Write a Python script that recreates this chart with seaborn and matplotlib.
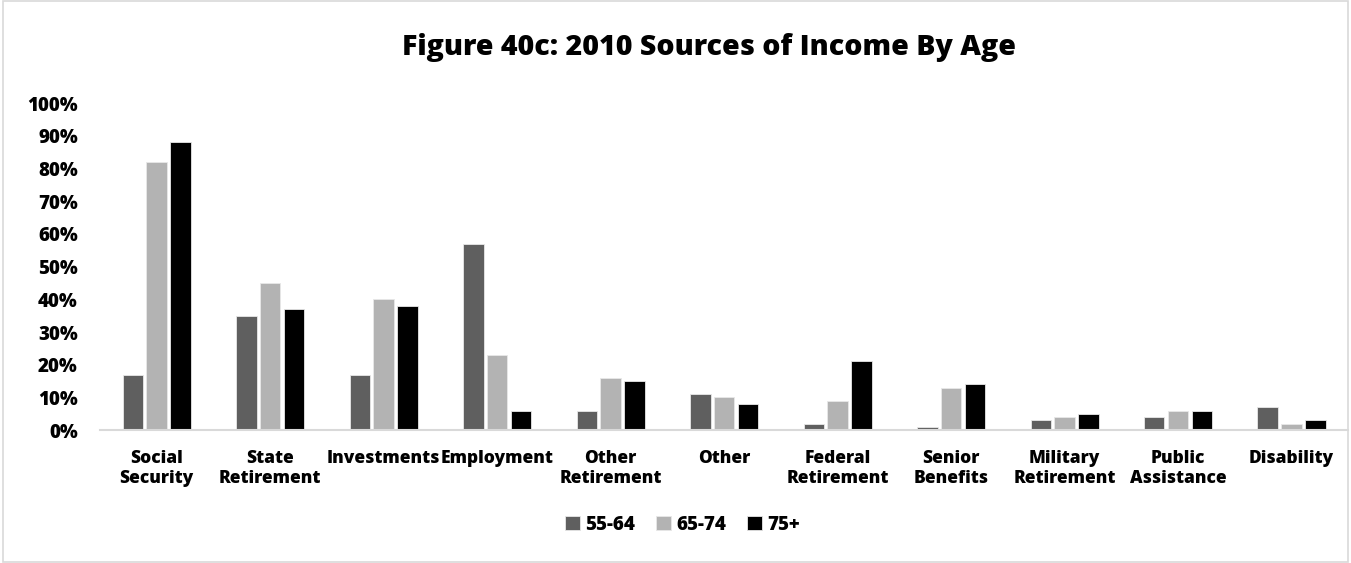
import pandas as pd
import numpy as np
import seaborn as sns
import matplotlib.pyplot as plt
from matplotlib.patches import Rectangle

# Data
categories = ["Social\nSecurity", "State\nRetirement", "Investments", "Employment",
              "Other\nRetirement", "Other", "Federal\nRetirement", "Senior\nBenefits",
              "Military\nRetirement", "Public\nAssistance", "Disability"]
age_groups = ["55-64", "65-74", "75+"]
age_55_64 = [17, 35, 17, 57, 6, 11, 2, 1, 3, 4, 7]
age_65_74 = [82, 45, 40, 23, 16, 10, 9, 13, 4, 6, 2]
age_75_up = [88, 37, 38, 6, 15, 8, 21, 14, 5, 6, 3]
colors = ["#5f5f5f", "#b3b3b3", "#000000"]

df = pd.DataFrame({
    "source": categories * 3,
    "age": np.repeat(age_groups, len(categories)),
    "pct": age_55_64 + age_65_74 + age_75_up,
})

sns.set_style("white")
plt.rcParams['font.family'] = ['Open Sans', 'DejaVu Sans']
plt.rcParams['font.weight'] = 800
plt.rcParams['text.color'] = 'black'
plt.rcParams['xtick.color'] = 'black'
plt.rcParams['ytick.color'] = 'black'

fig = plt.figure(figsize=(13.51, 5.63), dpi=100)
ax = fig.add_axes([0.074, 0.236, 0.924, 0.581])

sns.barplot(data=df, x="source", y="pct", hue="age", order=categories,
            hue_order=age_groups, palette=colors, width=0.63, gap=0.14,
            edgecolor="#e8e8e8", linewidth=0.6, ax=ax)

ax.set_ylim(0, 100)
ax.set_yticks(range(0, 101, 10))
ax.set_yticklabels([f"{v}%" for v in range(0, 101, 10)], fontsize=13.5, fontweight=800)
ax.set_xlim(-0.5, len(categories) - 0.5)
ax.tick_params(axis='x', labelsize=12.5, length=0, pad=14)
ax.tick_params(axis='y', length=0, pad=16)
for lab in ax.get_xticklabels():
    lab.set_fontweight(800)
    lab.set_linespacing(1.3)
ax.set_xlabel("")
ax.set_ylabel("")
sns.despine(ax=ax, left=True)
ax.spines['bottom'].set_color("#d9d9d9")
ax.spines['bottom'].set_linewidth(1.5)

fig.suptitle("Figure 40c: 2010 Sources of Income By Age", fontsize=20.5,
             fontweight=800, x=0.525, y=0.942)

handles, labels = ax.get_legend_handles_labels()
ax.legend_.remove()
fig.legend(handles, labels, loc='center', bbox_to_anchor=(0.505, 0.068), ncol=3,
           frameon=False, handlelength=0.8, handleheight=0.8,
           handletextpad=0.3, columnspacing=1.1, prop={'weight': 800, 'size': 13.5})

fig.patches.append(Rectangle((0.002, 0.002), 0.996, 0.996, transform=fig.transFigure,
                             fill=False, edgecolor="#d9d9d9", linewidth=1.2))

fig.savefig("out.png", dpi=100)
